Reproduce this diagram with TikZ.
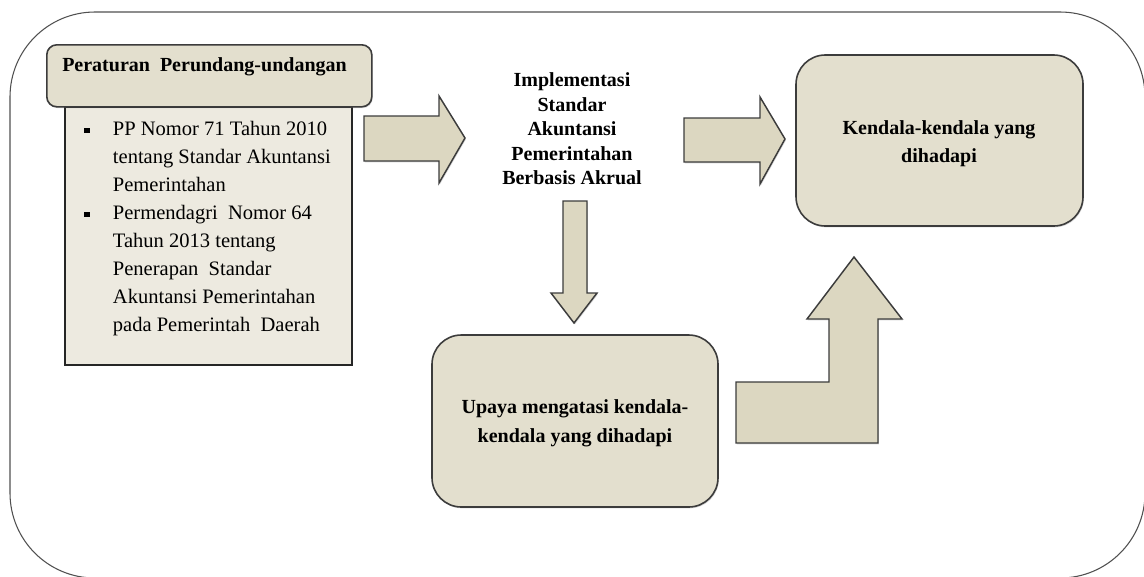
\documentclass[tikz,border=0pt]{standalone}
\usepackage{fontspec}
\setmainfont{Liberation Serif}
\usetikzlibrary{shadows}
\definecolor{boxfill}{HTML}{E3DFCE}
\definecolor{listfill}{HTML}{EDEAE0}
\definecolor{arrowfill}{HTML}{DCD7C1}
\definecolor{strokec}{HTML}{3C3C3C}
\tikzset{
  outerbox/.style={draw=strokec!90, line width=0.8pt, rounded corners=63.75pt},
  shad/.style={drop shadow={shadow xshift=0.7pt, shadow yshift=-1pt, opacity=0.25, fill=black!60}},
  rbox/.style={draw=strokec, line width=1.2pt, fill=boxfill, rounded corners=22pt, shad},
  titlebox/.style={draw=strokec, line width=1.2pt, fill=boxfill, rounded corners=7.5pt, shad},
  listbox/.style={draw=black!85, line width=1.3pt, fill=listfill, shad},
  blockarrow/.style={draw=strokec, line width=1.1pt, fill=arrowfill, line join=miter, shad},
  boldtxt/.style={font=\fontsize{15}{18.4}\selectfont\bfseries, align=center, inner sep=0pt},
}
\newcommand{\sqbullet}{\raisebox{2.2pt}{\rule{4pt}{4pt}}}
\begin{document}
\begin{tikzpicture}[x=0.75pt,y=-0.75pt]
\useasboundingbox (0,0) rectangle (1144,576);
\draw[outerbox] (10,12) rectangle (1145,578);

% left list box and title
\node[listbox, anchor=north west, minimum width=287*0.75pt, minimum height=258*0.75pt, inner sep=0pt] (list) at (64,106) {};
\node[titlebox, anchor=north west, minimum width=325*0.75pt, minimum height=62*0.75pt, inner sep=0pt] (title) at (46,44) {};
\node[anchor=west, inner sep=0pt, font=\fontsize{15}{18}\selectfont\bfseries] (titletxt) at (62,67) {Peraturan\ \ Perundang-undangan};

\node[anchor=north west, inner sep=0pt, font=\fontsize{15.4}{21}\selectfont] (listtxt) at (84,116)
{\begin{tabular}{@{}p{21.5pt}@{}l@{}}
\sqbullet & PP Nomor 71 Tahun 2010\\
 & tentang Standar Akuntansi\\
 & Pemerintahan\\
\sqbullet & Permendagri\ \ Nomor 64\\
 & Tahun 2013 tentang\\
 & Penerapan\ \ Standar\\
 & Akuntansi Pemerintahan\\
 & pada Pemerintah\ \ Daerah
\end{tabular}};

% centre text
\node[boldtxt] (impl) at (572,129) {Implementasi\\Standar\\Akuntansi\\Pemerintahan\\Berbasis Akrual};

% right box
\node[rbox, minimum width=287*0.75pt, minimum height=171*0.75pt] (kendala) at (939.5,140.5) {};
\node[boldtxt, font=\fontsize{15}{21}\selectfont\bfseries] (kendalatxt) at (939,144) {Kendala-kendala yang\\dihadapi};

% bottom box
\node[rbox, minimum width=286*0.75pt, minimum height=172*0.75pt] (upaya) at (575,421) {};
\node[boldtxt, font=\fontsize{15}{21.5}\selectfont\bfseries] (upayatxt) at (575,423) {Upaya mengatasi kendala-\\kendala yang dihadapi};

% block arrows
\draw[blockarrow] (364,116) -- (439,116) -- (439,96) -- (465,138) -- (439,183) -- (439,161) -- (364,161) -- cycle;
\draw[blockarrow] (684,118) -- (760,118) -- (760,97) -- (785,139) -- (760,184) -- (760,162) -- (684,162) -- cycle;
\draw[blockarrow] (563,201) -- (587,201) -- (587,293) -- (597,293) -- (574,323) -- (551,293) -- (563,293) -- cycle;
\draw[blockarrow] (736,382) -- (829,382) -- (829,319) -- (807,319) -- (854,257) -- (902,319) -- (878,319) -- (878,443) -- (736,443) -- cycle;
\end{tikzpicture}
\end{document}
